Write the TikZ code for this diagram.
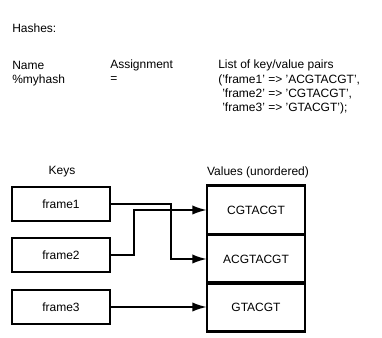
\documentclass[tikz,border=0pt]{standalone}
\usepackage{fontspec}
\setmainfont{Liberation Sans}
\usetikzlibrary{arrows.meta,positioning}

\begin{document}
\begin{tikzpicture}[x=0.75pt,y=-0.75pt,
  flow/.style={-{Latex[length=11pt,width=7pt]},line width=1.6pt},
  keybox/.style={draw,line width=1.6pt,minimum width=74pt,minimum height=26pt,font=\small},
  valbox/.style={draw,line width=1.6pt,outer sep=0pt,minimum width=73.5pt,minimum height=36.75pt,font=\small},
  txt/.style={anchor=west,inner sep=0pt,font=\small}
]
  \useasboundingbox (0,0) rectangle (382,338);

  % declaration text
  \node[txt] (title) at (12,28) {Hashes:};
  \node[txt] (name) at (12,65) {Name};
  \node[txt] (var) at (12,80) {\%myhash};
  \node[txt] (assign) at (110,65) {Assignment};
  \node[txt] (eq) at (110,80) {=};
  \node[txt] (list) at (218,65) {List of key/value pairs};
  \node[txt] (l1) at (218,80) {('frame1' => 'ACGTACGT',};
  \node[txt] (l2) at (222,94) {'frame2' => 'CGTACGT',};
  \node[txt] (l3) at (222,108) {'frame3' => 'GTACGT');};

  % keys
  \node[font=\small] (keys) at (62,172) {Keys};
  \node[keybox] (k1) at (61,204) {frame1};
  \node[keybox] (k2) at (61,255) {frame2};
  \node[keybox] (k3) at (61,307) {frame3};

  % values
  \node[font=\small] (vals) at (258,172) {Values (unordered)};
  \node[valbox] (v1) at (256,210) {CGTACGT};
  \node[valbox] (v2) at (256,259) {ACGTACGT};
  \node[valbox] (v3) at (256,307) {GTACGT};

  \draw[flow] (k1.east) -- ++(60,0) |- (v2.west);
  \draw[flow] (k2.east) -- ++(23,0) |- (v1.west);
  \draw[flow] (k3.east) -- (v3.west);
\end{tikzpicture}
\end{document}
